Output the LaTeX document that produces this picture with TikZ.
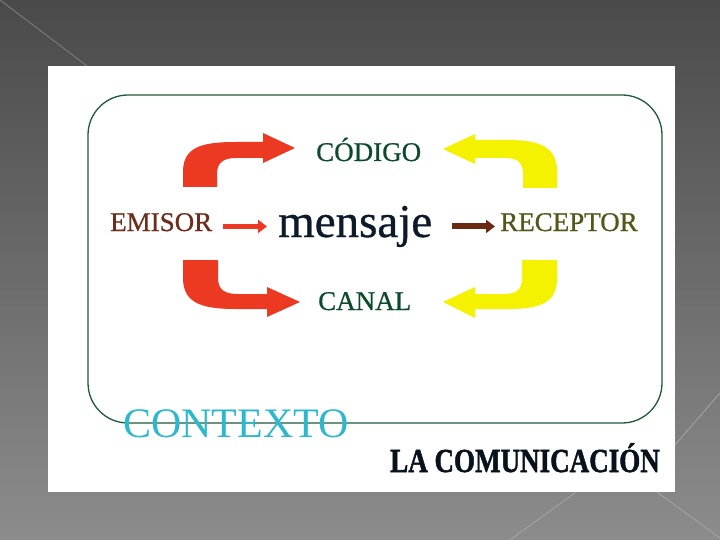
\documentclass[tikz,border=0pt]{standalone}
\usepackage{fontspec}
\setmainfont{Liberation Serif}
\newfontfamily\thickserif[FakeBold=0.7]{Liberation Serif}
\newfontfamily\heavyserif[FakeBold=1.6]{Liberation Serif Bold}
\usetikzlibrary{arrows.meta}
\definecolor{bgtop}{HTML}{4A4A4A}
\definecolor{bgbot}{HTML}{8C8C8C}
\definecolor{frame}{HTML}{1E5A38}
\definecolor{dgreen}{HTML}{0B4A2A}
\definecolor{brownt}{HTML}{6E2C1C}
\definecolor{olivet}{HTML}{56561A}
\definecolor{navyt}{HTML}{0C1A2A}
\definecolor{cyant}{HTML}{2EB8CC}
\definecolor{redar}{HTML}{EC3A22}
\definecolor{yellar}{HTML}{F4F200}
\definecolor{brownar}{HTML}{6A2A12}
\definecolor{bgline}{HTML}{A4A4A4}
\tikzset{
  lbl/.style={anchor=base west, inner sep=0pt, font=\thickserif\fontsize{27}{27}\selectfont},
}
\begin{document}
\begin{tikzpicture}[x=1pt,y=-1pt]
\useasboundingbox (0,0) rectangle (720,540);
\shade[top color=bgtop, bottom color=bgbot] (0,0) rectangle (720,540);
\draw[color=bgline!60!bgtop, line width=0.8pt] (0,0) -- (87,66);
\draw[color=bgline, line width=0.8pt] (576,492) -- (510,540);
\draw[color=bgline, line width=0.8pt] (657,492) -- (720,538);
\draw[color=bgline, line width=0.8pt] (720,393) -- (675,445);
\fill[white] (48,66) rectangle (675,492);
\draw[frame, line width=1.3pt, rounded corners=40pt] (88,95) rectangle (662,423);

% curved arrows
\fill[redar] (183,187) -- (183,172) .. controls (183,148) and (200,142) .. (235,142) -- (263,142) -- (263,133) -- (295,148) -- (263,163) -- (263,158) -- (236,158) .. controls (224,158) and (217,162) .. (217,174) -- (217,187) -- cycle;
\fill[redar] (183,260) -- (183,278) .. controls (183,302) and (200,309) .. (235,309) -- (267,309) -- (267,317) -- (300,302) -- (267,287) -- (267,294) -- (238,294) .. controls (225,294) and (218,290) .. (218,278) -- (218,260) -- cycle;
\fill[yellar] (557,188) -- (557,172) .. controls (557,148) and (542,140) .. (508,140) -- (475,140) -- (475,134) -- (443,149) -- (475,164) -- (475,158) -- (505,158) .. controls (517,158) and (523,162) .. (523,174) -- (523,188) -- cycle;
\fill[yellar] (522,260) -- (522,278) .. controls (522,290) and (516,294) .. (504,294) -- (475,294) -- (475,287) -- (443,302) -- (475,318) -- (475,309) -- (508,309) .. controls (542,309) and (557,302) .. (557,278) -- (557,260) -- cycle;

% texts
\node[lbl, text=dgreen] (codigo) at (316,161) {CÓDIGO};
\node[lbl, text=dgreen] (canal) at (318,310) {CANAL};
\node[lbl, text=brownt] (emisor) at (110,231) {EMISOR};
\node[lbl, text=olivet] (receptor) at (500,231) {RECEPTOR};
\node[lbl, text=navyt, font=\thickserif\fontsize{47}{47}\selectfont] (mensaje) at (278,237) {mensaje};
\node[lbl, text=cyant, font=\rmfamily\fontsize{42}{42}\selectfont] (contexto) at (123,437) {CONTEXTO};
\node[lbl, text=navyt!70!black, font=\heavyserif] (titulo) at (390,472) {\scalebox{0.845}[1.05]{\fontsize{32}{32}\selectfont LA COMUNICACIÓN}};

% small arrows
\draw[redar, line width=5pt, -{Triangle[length=9pt,width=13pt]}, shorten <=11pt, shorten >=11pt] (emisor.east |- mensaje.west) -- (mensaje.west);
\draw[brownar, line width=6pt, -{Triangle[length=9pt,width=13pt]}, shorten <=20pt, shorten >=5pt] (mensaje.east) -- (receptor.west |- mensaje.east);
\end{tikzpicture}
\end{document}
